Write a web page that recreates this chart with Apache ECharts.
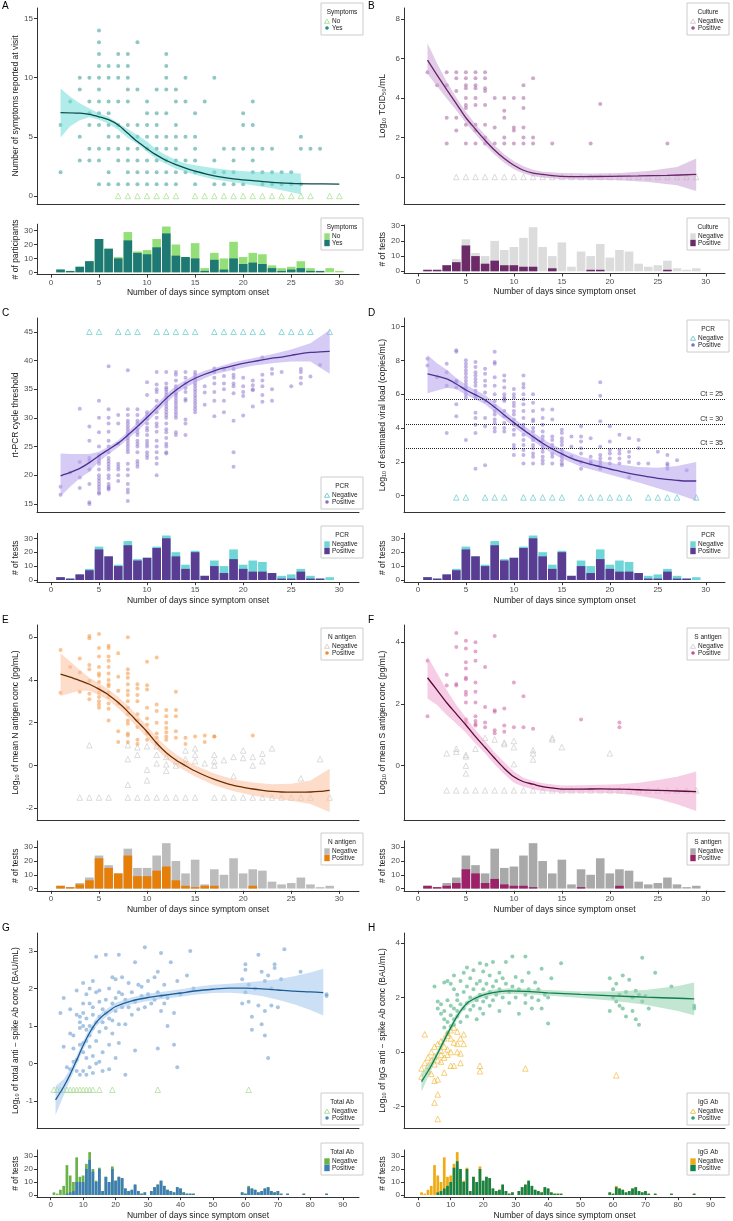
<!DOCTYPE html>
<html>
<head>
<meta charset="utf-8">
<script src="https://cdn.jsdelivr.net/npm/echarts@6/dist/echarts.min.js"></script>
<style>
html,body{margin:0;padding:0;background:#fff}
#main{width:733px;height:1221px}
</style>
</head>
<body>
<div id="main"></div>
<script>
// ---------- data ----------
var days29 = [1,2,3,4,5,6,7,8,9,10,11,12,13,14,15,16,17,18,19,20,21,22,23,24,25,26,27,28,29];
var days30 = [1,2,3,4,5,6,7,8,9,10,11,12,13,14,15,16,17,18,19,20,21,22,23,24,25,26,27,28,29,30];

// A - symptoms
var A_yes = [[1,[6,2]],[2,[8]],[3,[10,9,5,3]],[4,[10,8,7,6,4,3]],[5,[14,13,12,11,10,9,8,7,6,4,3,1]],
  [6,[11,10,8,7,6,5,4,2,1]],[7,[12,11,10,8,6,5,4,3,1]],[8,[12,11,10,9,8,6,4,3,2,1]],[9,[13,9,6,5,4,3,2,1]],
  [10,[8,7,6,5,4,3,2,1]],[11,[9,7,6,5,4,3,2,1]],[12,[12,11,10,9,7,5,4,3,2,1]],[13,[9,8,6,5,4,3,2,1]],
  [14,[10,8,5,3,2]],[15,[7,5,4,3,2,1]],[16,[8]],[17,[10,3,2,1]],[18,[4,2,1]],[19,[4,3,2,1]],[20,[7,6,4,1]],
  [21,[8,6,4,3,2]],[22,[4,2,1]],[23,[4,2,1]],[24,[2,1]],[25,[2,1]],[26,[5,4,1]],[27,[4]],[28,[4]]];
var A_noDays = [7,8,9,10,11,12,13,15,16,17,18,19,20,21,22,23,24,25,26,27,29,30];
var A_noLevel = 0;
var A_fitX = [1,3,4,5,6,7,8,9,10,11,12,13,14,15,17,19,21,23,25,27,30];
var A_fit = [7.05,7.0,6.9,6.7,6.45,6.0,5.3,4.6,4.0,3.45,3.0,2.65,2.35,2.1,1.7,1.45,1.3,1.15,1.07,1.03,1.0];
var A_ciX = [1,2,3,4,5,6,7,8,9,10,11,12,13,14,15,17,19,21,23,26];
var A_ciLo = [4.95,5.9,6.4,6.65,6.45,6.1,5.6,4.9,4.4,3.75,3.1,2.7,2.3,2.05,1.8,1.4,1.15,0.9,0.65,0.15];
var A_ciHi = [9.1,8.4,7.85,7.4,7.0,6.7,6.15,5.65,5.15,4.6,3.9,3.45,3.05,2.75,2.6,2.35,2.15,2.05,2.0,1.9];
var A_histPos = [2,1,4,8,24,17,10,23,14,13,18,28,12,11,10,1,9,2,10,6,7,6,3,1,2,3,1,1,0,0];
var A_histTot = [2,1,4,8,24,17,11,29,15,16,24,33,20,11,21,3,14,10,22,11,14,13,5,3,4,8,3,1,3,1];

// B - culture
var B_pos = [[1,[5.3]],[2,[4.65]],[3,[5.3,4.65,3.0,1.7]],[4,[5.3,5.0,4.35,3.0,2.35]],
  [5,[5.3,5.0,4.65,4.5,4.0,3.65,3.5,2.65,1.7]],[6,[5.3,5.0,4.65,4.5,4.0,3.65,2.65,2.35,1.7]],
  [7,[5.3,5.0,4.5,4.35,3.65,2.65,2.0,1.7]],[8,[4.0,2.5,1.7]],[9,[4.0,3.35,3.0,2.0,1.7]],[10,[4.0,2.5,2.35,1.7]],
  [11,[4.65,4.0,3.5,2.5,2.0,1.7]],[12,[5.0,2.0,1.7]],[14,[1.7]],[18,[1.7]],[19,[3.7]],[26,[1.7]]];
var B_negDays = [4,5,6,7,8,9,10,11,12,13,14,15,16,17,18,19,20,21,22,23,24,25,26,27,28,29];
var B_negLevel = 0;
var B_fitX = [1,2,3,4,5,6,7,8,9,10,11,12,13,14,15,17,20,23,26,29];
var B_fit = [5.92,5.16,4.43,3.72,3.0,2.42,1.86,1.35,0.93,0.59,0.34,0.2,0.13,0.07,0.03,0.02,0.03,0.05,0.08,0.13];
var B_ciX = [1,2,3,4,5,6,7,8,9,10,11,12,13,15,18,21,24,27,29];
var B_ciLo = [5.21,4.6,3.98,3.38,2.74,2.17,1.62,1.13,0.71,0.39,0.17,0.03,-0.03,-0.12,-0.14,-0.17,-0.25,-0.42,-0.71];
var B_ciHi = [6.77,5.75,4.82,4.03,3.3,2.67,2.12,1.59,1.15,0.8,0.54,0.37,0.27,0.2,0.17,0.2,0.3,0.5,0.93];
var B_histPos = [1,1,4,6,17,10,5,7,4,4,3,3,0,2,0,0,0,1,1,0,0,0,0,0,0,1,0,0,0];
var B_histTot = [1,1,4,8,21,12,10,20,14,16,22,29,16,10,19,3,13,10,18,9,14,13,5,3,4,7,2,1,2];

// C / D - PCR
var C_pos = [[1,[18,16.6]],[2,[20.5]],[3,[31.6,22.3,19.6,17.8]],[4,[28.5,26,23,22.5,21,18.5,15.3,15]],
  [5,[33,30,27.5,25,23.5,23,22.5,22,21,20,19.5,19,18.5,18,17.5,17,16.8]],
  [6,[39,31.5,30,29,27.6,26,25,24,23,22.5,22,21.5,21,20,19.5,18.5,18,17.8,17.5]],
  [7,[30.5,29,25.5,22,21.5,21,20,19]],
  [8,[38.3,31.5,30.5,29.5,29,28.5,28,27.5,27,26.5,26,25.5,25,24.5,24,22,21,20,18.5,17.5,17,15.5]],
  [9,[31.5,30.5,29.5,29,28,27.5,27,26,25.5,25,24,22.5,22,21.5]],
  [10,[36.2,34,31,30.5,29.8,29,28.3,27.8,27,26,25.5,25,24,23.5,23]],
  [11,[38,35.8,35,34.5,33,32,31,30,29,28.5,27.6,26,25,24,23,22,20]],
  [12,[38,36,35.3,35,34.5,34,33.5,33,32.5,32,31.5,31,30.5,30,29,28,27.5,26.5,25.5,25,24,23.8]],
  [13,[38,37.5,36.5,35.5,35,34.3,34,33.5,33,32.5,32,31.5,31,30.5,30,27.5,27]],
  [14,[38,37,36,35.2,34.5,33.3,33,29.7,29,27]],
  [15,[38,37.5,37,36.5,36,35.5,35,34.5,34,33.5,33,32.5,32,31.5,31]],
  [16,[35.5,34.4,32.3]],[17,[38.6,38,37,36,34.5,33,30.3]],[18,[38.5,37.3,36,35,33,31]],
  [19,[38.5,37.5,37,36,35.5,34.3,29.5,24,21.5]],[20,[37,35.5,34.5,33.8,30.4]],[21,[36.5,35.7,35,34.8,32]],
  [22,[40.5,37.5,36.5,35.5,34,32.8]],[23,[38.5,37.7,35,33]],[24,[38]],[25,[35.5]],[26,[38.5,38,37,36]],
  [27,[37.2]],[28,[39.2]]];
var PCR_negDays = [4,5,7,8,9,11,12,13,14,15,17,18,19,20,21,22,24,25,26,27,29];
var C_negLevel = 45;
var C_fit = [19.9,20.5,21.2,22.2,23.4,24.5,25.6,27.0,28.5,30.1,31.7,33.4,34.8,36.0,36.9,37.6,38.2,38.7,39.1,39.5,39.8,40.1,40.4,40.6,40.9,41.2,41.4,41.5,41.6];
var C_ciX = [1,2,3,4,5,6,7,8,9,10,11,12,13,14,15,16,17,19,21,23,25,27,29];
var C_ciLo = [16.3,18.0,19.5,20.6,22.4,23.7,24.9,26.3,27.7,29.3,30.9,32.6,34.1,35.3,36.1,36.9,37.6,38.4,39.1,39.5,39.8,39.8,37.7];
var C_ciHi = [23.8,23.7,23.7,23.7,24.1,25.0,26.1,27.6,29.2,30.8,32.4,34.1,35.6,36.6,37.5,38.2,38.7,39.7,40.4,41.1,41.9,43.0,45.3];
var PCR_histPos = [2,1,4,7,22,17,10,25,14,16,23,30,17,8,20,3,10,5,15,8,6,6,5,1,1,6,1,1,0];
var PCR_histTot = [2,1,4,8,24,17,11,28,15,16,24,32,20,11,21,3,14,10,22,11,14,13,5,3,4,8,3,1,2];

var D_pos = [[1,[8.1,7.7]],[2,[7.0]],[3,[7.8,7.3,6.5,3.7]],[4,[8.6,8.5,6.8,6.7,6.4,5.4,4.7]],
  [5,[8.0,7.8,7.6,7.4,7.2,7.0,6.8,6.6,6.4,6.2,6.0,5.8,3.3]],
  [6,[7.9,7.6,7.3,7.1,6.9,6.7,6.5,6.2,6.0,5.8,4.9,4.6,4.2,3.7,1.6]],
  [7,[7.5,7.2,6.8,6.5,6.1,5.6,4.6,4.1,1.8]],
  [8,[8.5,7.9,7.8,7.0,6.5,6.0,5.6,5.3,5.0,4.8,4.5,4.3,4.0,3.8]],
  [9,[7.1,6.8,6.4,6.0,5.8,5.7,5.6,5.0,4.7,4.3,4.0,3.8]],
  [10,[6.3,6.0,5.8,5.5,5.3,5.0,4.8,4.5,4.2,3.9,3.6,3.0,2.8,2.4]],
  [11,[7.1,6.6,6.4,6.0,5.7,5.4,5.0,4.6,4.2,4.0,3.6,3.3,3.0,2.7,2.4,1.9]],
  [12,[6.0,5.5,5.0,4.5,4.4,4.0,3.8,3.5,3.3,3.0,2.8,2.5,2.3,1.9]],
  [13,[5.1,4.6,4.2,3.8,3.5,3.3,3.0,2.8,2.6,2.3,2.1,1.9]],
  [14,[5.1,4.5,3.5,3.3,3.0,2.8,2.5,2.3,1.9]],
  [15,[3.9,3.7,3.4,3.2,3.0,2.7,2.5,2.3,2.1,1.9,1.8]],
  [16,[3.5,2.9,2.3]],[17,[4.1,3.5,3.2,2.8,2.5,2.0,1.6]],[18,[3.4,2.3,2.0,1.9]],
  [19,[6.7,5.9,4.4,2.9,2.4,2.2,2.0,1.8,1.6]],[20,[4.1,3.2,2.7,2.5,2.2,1.9]],[21,[3.6,2.7,2.5,2.2,1.9]],
  [22,[3.4,2.6,2.3,2.0,1.1]],[23,[3.3,2.8,1.9]],[24,[1.9]],[25,[2.6]],[26,[2.4,1.9,1.8,1.6]],[27,[2.1]],[28,[1.5]]];
var D_negLevel = -0.1;
var D_fitX = [1,3,4,5,6,7,8,9,10,11,12,13,14,15,16,17,18,19,20,21,22,23,24,25,26,27,28,29];
var D_fit = [7.2,6.9,6.6,6.25,5.96,5.66,5.23,4.77,4.32,3.89,3.49,3.1,2.76,2.47,2.21,2.01,1.85,1.72,1.58,1.46,1.32,1.22,1.12,1.03,0.97,0.91,0.87,0.87];
var D_ciX = [1,2,3,4,5,6,7,8,9,10,11,12,13,14,15,17,19,21,23,25,27,29];
var D_ciLo = [6.06,6.21,6.37,6.3,5.95,5.7,5.4,4.95,4.52,4.07,3.63,3.23,2.84,2.5,2.2,1.72,1.4,1.1,0.78,0.45,0.1,-0.3];
var D_ciHi = [8.32,7.83,7.44,6.95,6.55,6.25,5.95,5.5,5.03,4.58,4.15,3.75,3.36,3.03,2.75,2.3,2.05,1.85,1.7,1.65,1.75,2.0];
var ctLabels = ['Ct = 25','Ct = 30','Ct = 35'];
var ctLevels = [5.7,4.22,2.8];

// E - N antigen
var E_pos = [[1,[5.4,3.4]],[2,[4.6]],[3,[5.0,4.35,3.45]],[4,[6.05,5.95,4.7,4.5,3.95,3.35,3.1]],
  [5,[6.15,5.5,5.1,4.6,4.3,4.2,3.9,3.6,3.4,3.2,3.0,2.85,2.7]],
  [6,[5.6,5.5,5.1,4.9,4.6,4.3,4.0,3.8,3.7,3.4,3.2,2.9,2.65,2.1]],[7,[5.25,4.15,3.5,2.9,1.6,1.1]],
  [8,[6.0,4.5,4.3,4.1,3.8,3.5,3.3,3.0,2.7,2.4,2.1,1.95,1.5,1.4,1.1]],[9,[3.8,3.6,3.3,3.0,2.4,2.1,1.8,1.2,1.0]],
  [10,[4.85,3.75,3.55,2.7,2.2,1.9,1.5,1.2]],[11,[5.05,2.85,2.55,2.0,1.5,1.3,1.05]],[12,[2.6,2.3,2.0,1.75,1.55,1.35,1.2]],
  [13,[3.45,2.6,2.3,1.6,1.3]],[14,[1.3,1.0]],[15,[1.35]],[16,[1.4,1.1]],[17,[1.35,1.35]],[21,[1.4]]];
var E_neg = [[3,[-1.5]],[4,[0.95,-1.5]],[5,[-1.5]],[6,[-1.5]],[8,[0.95,0.3,-0.9,-1.5]],[9,[0.85,0.5,-1.5]],
  [10,[0.9,-0.2,-0.7,-1.5]],[11,[0.9,0.5,0.1,-1.5]],[12,[0.4,0.05,-0.25,-1.5]],[13,[0.2,0.0,-1.5]],
  [14,[0.7,0.3,0.1,-1.5]],[15,[0.8,0.5,0.2,-1.5]],[16,[0.1]],[17,[0.5,0.2,0.0,-1.5]],[18,[0.25,-1.5]],
  [19,[0.4,-0.5,-1.5]],[20,[0.7,0.35,-1.5]],[21,[0.4,0.0,-1.5]],[22,[0.55,0.2,-1.5]],[23,[0.8,-1.5]],
  [24,[-1.5]],[25,[-1.5]],[26,[-0.6,-1.5]],[27,[-1.5]],[28,[0.3]],[29,[-1.5]]];
var E_fit = [4.27,4.13,3.97,3.8,3.57,3.3,2.94,2.52,2.05,1.58,1.04,0.6,0.26,-0.01,-0.26,-0.47,-0.65,-0.8,-0.93,-1.02,-1.1,-1.16,-1.21,-1.24,-1.25,-1.25,-1.24,-1.21,-1.16];
var E_ciX = [1,2,3,4,5,6,7,8,9,10,11,12,13,14,15,17,19,21,23,25,27,29];
var E_ciLo = [3.25,3.38,3.49,3.5,3.3,3.05,2.68,2.25,1.78,1.3,0.77,0.33,0.0,-0.26,-0.52,-0.92,-1.2,-1.4,-1.55,-1.65,-1.8,-2.17];
var E_ciHi = [5.25,4.86,4.47,4.1,3.85,3.55,3.2,2.8,2.33,1.86,1.32,0.88,0.53,0.25,0.0,-0.38,-0.65,-0.8,-0.88,-0.85,-0.7,-0.15];
var E_histPos = [2,1,3,6,22,15,11,24,9,9,13,16,6,2,1,2,2,0,0,0,2,0,0,0,0,0,0,0,0];
var E_histTot = [2,1,4,8,24,17,11,29,15,15,24,33,20,11,21,3,14,10,22,11,14,13,5,3,4,8,3,1,2];

// F - S antigen
var F_pos = [[1,[3.4,1.6]],[3,[2.95,2.6]],[4,[4.3,3.85,2.65,2.6]],[5,[4.05,3.8,3.35,3.15,2.85,2.8,2.4,2.3,2.05,1.5,1.4]],
  [6,[4.0,3.7,3.4,2.7,2.4,2.05,1.6,1.45,1.35,1.3]],[7,[3.2,1.9,1.4,1.25]],[8,[4.2,1.8,1.75,1.15,1.05]],
  [9,[1.85,1.3,1.1]],[10,[2.7,1.25]],[11,[2.25,1.25]],[12,[1.2]],[17,[1.5]],[21,[1.4,1.25]]];
var F_neg = [[3,[0.4,-0.8]],[4,[0.55,0.45,-0.8]],[5,[0.35,0.3,0.0,-0.25,-0.8]],[6,[0.55,-0.8]],[7,[0.9,-0.8]],
  [8,[0.85,-0.8]],[9,[0.75,0.7,-0.8]],[10,[0.8,0.6,0.05,-0.8]],[11,[-0.8]],[12,[0.5,0.4,0.2,-0.8]],[13,[-0.8]],
  [14,[0.9,0.85,-0.8]],[15,[0.6,-0.8]],[16,[-0.8]],[17,[-0.8]],[18,[-0.8]],[19,[-0.8]],[20,[0.4,-0.8]],
  [21,[-0.8]],[22,[-0.8]],[23,[-0.8]],[24,[-0.8]],[25,[-0.8]],[26,[-0.8]],[27,[-0.8]],[28,[-0.8]],[29,[-0.8]]];
var F_fitX = [1,2,3,4,5,6,7,8,9,10,11,12,13,14,15,17,19,21,23,25,27,29];
var F_fit = [2.85,2.45,2.04,1.68,1.32,0.94,0.59,0.24,-0.09,-0.36,-0.52,-0.6,-0.68,-0.72,-0.76,-0.76,-0.75,-0.76,-0.78,-0.8,-0.82,-0.84];
var F_ciX = [1,2,3,4,5,6,7,8,9,10,11,12,13,15,17,19,21,23,25,27,29];
var F_ciLo = [2.18,1.97,1.64,1.37,1.07,0.72,0.4,0.04,-0.28,-0.55,-0.68,-0.76,-0.82,-0.88,-0.88,-0.88,-0.9,-0.97,-1.08,-1.25,-1.47];
var F_ciHi = [3.54,3.0,2.45,1.97,1.56,1.16,0.8,0.43,0.11,-0.19,-0.39,-0.5,-0.57,-0.64,-0.63,-0.62,-0.6,-0.55,-0.46,-0.36,-0.19];
var F_histPos = [2,1,2,4,14,11,4,7,3,2,2,1,0,0,0,0,1,0,0,0,2,0,0,0,0,0,0,0,0];
var F_histTot = [2,1,4,8,24,17,11,29,15,16,24,33,20,11,21,3,14,10,22,11,14,13,5,3,4,8,3,1,2];

// G / H - antibodies
var Ab_days = [1,2,3,4,5,6,7,8,9,10,11,12,13,14,15,16,17,18,19,20,21,22,23,24,25,26,27,28,29,31,32,33,34,35,36,37,38,39,40,41,42,43,44,59,60,61,62,63,64,65,66,67,68,69,70,71,73,78,85];
var Ab_tot = [2,1,4,7,23,15,10,29,14,15,24,33,20,11,21,3,14,10,22,11,14,13,5,3,4,8,3,1,2,3,6,8,11,7,4,3,2,6,5,2,1,1,1,2,1,7,5,4,2,3,5,6,3,2,3,1,1,1,1];
var G_histPos = [0,0,0,0,1,2,3,10,10,10,20,27,18,10,20,3,14,10,20,11,14,13,5,3,4,8,3,1,2,3,6,8,11,7,4,3,2,6,5,2,1,1,1,2,1,6,5,4,2,3,5,6,3,2,3,1,1,1,1];
var H_histPos = [0,0,0,0,0,2,3,5,7,10,21,26,20,10,20,3,14,10,20,11,14,13,5,3,4,8,3,1,2,3,6,8,11,7,4,3,2,6,5,2,1,1,1,2,1,6,5,4,2,3,5,6,3,2,3,1,1,1,1];

var G_pos = [[3,1.35],[4,1.75],[4,0.45],[5,-0.1],[6,0.8],[6,1.45],[6,-0.15],[7,0.05],[7,0.4],[7,0.75],[8,1.95],[8,1.3],
  [8,0.1],[8,-0.2],[9,1.25],[9,0.5],[9,0.95],[9,-0.3],[9,1.1],[10,2.15],[10,1.0],[10,0.55],[10,0.3],[10,-0.2],[10,1.6],
  [10,1.35],[11,0.15],[11,0.6],[11,1.2],[11,-0.3],[11,0.9],[11,1.85],[12,1.0],[12,2.0],[12,0.45],[12,-0.1],[12,1.6],
  [12,0.75],[13,1.3],[13,0.2],[13,1.5],[13,0.95],[13,-0.25],[13,2.2],[14,2.85],[14,1.9],[14,0.6],[14,0.0],[14,1.1],
  [15,1.65],[15,0.05],[15,1.25],[15,0.85],[15,1.95],[16,1.45],[16,0.3],[16,1.1],[16,-0.2],[17,2.9],[17,1.7],[17,0.95],
  [17,1.35],[18,2.0],[18,1.2],[18,-0.15],[18,0.5],[19,2.3],[19,1.6],[19,1.15],[19,0.8],[20,2.25],[20,1.75],[20,1.4],
  [20,0.15],[21,2.9],[21,1.9],[21,1.05],[21,0.55],[22,1.85],[22,1.5],[22,2.3],[23,1.7],[23,-0.3],[23,1.05],[24,2.15],
  [24,1.5],[25,1.9],[25,1.3],[26,2.7],[26,0.35],[26,1.65],[27,2.1],[27,1.45],[28,1.8],[28,2.05],[29,3.1],[29,1.5],
  [30,1.85],[30,2.2],[31,1.6],[32,2.3],[32,1.7],[33,2.45],[33,1.9],[33,0.4],[34,2.95],[34,1.8],[34,1.4],[35,2.1],
  [35,1.6],[36,1.0],[36,1.75],[37,2.7],[38,1.35],[38,0.5],[39,2.2],[39,-0.1],[40,1.85],[42,2.35],[43,3.0],[44,2.0],
  [59,2.25],[59,1.6],[60,2.65],[60,2.5],[60,1.9],[61,1.65],[61,2.1],[62,1.25],[62,0.9],[63,2.0],[64,2.9],[64,1.55],
  [65,2.45],[65,1.05],[66,2.2],[66,1.4],[66,0.75],[67,2.35],[67,0.15],[68,2.0],[68,1.55],[69,2.55],[69,2.65],[70,1.5],
  [71,2.25],[72,3.05],[77,2.45],[85,1.8],[85,1.85]];
var G_negDays = [1,2,3,4,5,6,7,8,9,10,11,12,13,15,19,33,61];
var G_negLevel = -0.7;
var G_fitX = [1.5,4,6,8,10,12,14,16,18,20,25,30,35,40,45,50,55,60,65,70,75,80,84];
var G_fit = [-0.97,-0.62,-0.29,0.09,0.48,0.82,1.09,1.27,1.4,1.52,1.67,1.76,1.82,1.88,1.94,1.98,2.01,2.01,1.99,1.96,1.93,1.91,1.89];
var G_ciLo = [-1.37,-0.85,-0.44,-0.04,0.36,0.7,0.98,1.17,1.3,1.42,1.58,1.67,1.73,1.78,1.84,1.88,1.89,1.86,1.8,1.7,1.58,1.43,1.28];
var G_ciHi = [-0.6,-0.42,-0.15,0.21,0.6,0.94,1.2,1.38,1.5,1.62,1.77,1.86,1.92,1.98,2.05,2.1,2.13,2.16,2.2,2.25,2.33,2.43,2.53];

var H_pos = [[5,2.4],[6,1.6],[6,1.85],[7,1.4],[7,1.75],[8,2.55],[8,1.5],[8,1.2],[8,0.9],[9,2.6],[9,1.9],[9,1.1],[9,0.7],
  [10,2.5],[10,1.7],[10,1.35],[10,0.95],[11,2.8],[11,2.3],[11,1.6],[11,1.2],[11,1.0],[12,2.1],[12,1.9],[12,1.5],[12,1.3],
  [13,2.6],[13,1.75],[13,1.1],[14,2.9],[14,2.2],[14,1.6],[15,3.1],[15,2.4],[15,1.8],[15,1.3],[16,2.7],[16,2.0],[16,1.55],
  [17,3.0],[17,2.3],[17,1.7],[18,2.5],[18,1.9],[18,1.2],[19,3.25],[19,2.6],[19,2.1],[19,1.6],[20,2.95],[20,2.3],[20,1.85],
  [20,1.4],[21,3.2],[21,2.5],[21,2.0],[22,2.8],[22,2.2],[22,1.7],[23,3.3],[23,2.4],[23,1.9],[24,2.6],[24,2.1],[25,2.9],
  [25,2.3],[25,1.5],[26,2.7],[26,2.0],[27,3.3],[27,2.5],[28,2.2],[28,1.8],[29,3.5],[29,2.4],[30,2.75],[30,2.0],[31,2.3],
  [31,1.4],[32,2.6],[33,3.5],[33,2.1],[33,1.8],[34,2.9],[34,2.3],[35,2.0],[35,1.6],[36,2.55],[37,2.3],[37,1.9],[38,3.05],
  [38,1.6],[39,2.1],[40,1.05],[40,2.0],[41,2.7],[44,3.25],[59,2.7],[59,1.5],[60,2.3],[60,2.0],[61,2.5],[61,1.85],[62,2.1],
  [62,1.7],[63,2.8],[63,1.6],[64,2.2],[64,1.3],[65,2.65],[66,2.0],[66,1.5],[67,2.25],[67,1.2],[68,1.0],[68,2.1],[69,3.45],
  [69,1.85],[70,2.05],[71,1.6],[73,2.9],[78,2.4],[85,1.6],[85,1.7]];
var H_neg = [[1,-0.6],[1,-0.9],[2,0.65],[2,-0.4],[3,-0.2],[3,-0.5],[3,-0.7],[4,-0.3],[4,-0.8],[4,0.0],[5,-1.05],[5,-0.45],
  [5,-1.85],[5,0.2],[5,-0.15],[6,-1.55],[6,-2.45],[6,-1.0],[6,0.3],[6,-0.3],[7,0.4],[7,-0.1],[7,0.05],[7,-0.35],[8,0.5],
  [8,-0.75],[8,0.2],[8,-0.2],[9,0.7],[9,0.6],[9,0.1],[9,-0.1],[10,0.8],[10,0.5],[10,0.0],[10,-0.5],[11,0.9],[11,0.35],
  [11,-0.5],[12,0.75],[12,0.3],[12,0.0],[13,0.5],[13,-0.05],[13,-0.4],[14,0.65],[14,0.3],[19,-0.5],[19,-0.7],[33,-0.6],[61,-0.85]];
var H_fitX = [1,3.5,5.5,7.5,9.5,11.5,13.5,15.5,19,23,28,33,40,50,60,70,80,85];
var H_fit = [-1.08,-0.6,-0.15,0.32,0.78,1.22,1.58,1.83,2.05,2.18,2.24,2.22,2.17,2.11,2.06,2.01,1.97,1.95];
var H_ciLo = [-1.45,-0.78,-0.28,0.2,0.67,1.1,1.47,1.73,1.95,2.08,2.14,2.12,2.07,1.98,1.88,1.73,1.5,1.35];
var H_ciHi = [-0.75,-0.42,-0.02,0.44,0.9,1.34,1.69,1.93,2.15,2.28,2.34,2.32,2.27,2.22,2.22,2.27,2.42,2.55];

// ---------- helpers ----------
var FONT = '"Liberation Sans", Arial, sans-serif';
var AXIS_C = '#333333', TICK_C = '#4d4d4d', TITLE_C = '#1a1a1a';
var X_NAME = 'Number of days since symptom onset';

function grouped(list) {
  var out = [];
  list.forEach(function (g) { g[1].forEach(function (v) { out.push([g[0], v]); }); });
  return out;
}
function atLevel(days, v) { return days.map(function (d) { return [d, v]; }); }
function zip(xs, ys) { return xs.map(function (x, i) { return [x, ys[i]]; }); }

var grids = [], xAxes = [], yAxes = [], series = [], graphics = [];

function xAxis(gi, min, max, ticks) {
  var a = {
    type: 'value', gridIndex: gi, min: min, max: max,
    axisLine: { show: true, onZero: false, lineStyle: { color: AXIS_C, width: 1 } },
    splitLine: { show: false }
  };
  if (ticks) {
    a.axisTick = { show: true, length: 3, customValues: ticks, lineStyle: { color: AXIS_C } };
    a.axisLabel = { customValues: ticks, fontSize: 8, color: TICK_C, margin: 4 };
    a.name = X_NAME; a.nameLocation = 'middle'; a.nameGap = 14;
    a.nameTextStyle = { fontSize: 8.5, color: TITLE_C };
  } else {
    a.axisTick = { show: false };
    a.axisLabel = { show: false };
  }
  return a;
}
function yAxis(gi, min, max, ticks, name) {
  return {
    type: 'value', gridIndex: gi, min: min, max: max,
    name: name, nameLocation: 'middle', nameGap: 17,
    nameTextStyle: { fontSize: 8.5, color: TITLE_C },
    axisLine: { show: true, onZero: false, lineStyle: { color: AXIS_C, width: 1 } },
    axisTick: { show: true, length: 3, customValues: ticks, lineStyle: { color: AXIS_C } },
    axisLabel: { customValues: ticks, fontSize: 8, color: TICK_C, margin: 4 },
    splitLine: { show: false }
  };
}

// confidence band: one polygon through api.coord, upper edge forward and lower edge back
function bandSeries(gi, xs, lo, hi, color) {
  return {
    type: 'custom', xAxisIndex: gi, yAxisIndex: gi, silent: true, z: 3, clip: true,
    data: xs.map(function (x, i) { return [x, lo[i], hi[i]]; }),
    encode: { x: 0, y: [1, 2] },
    renderItem: function (params, api) {
      if (params.dataIndex !== 0) return;
      var pts = [], i;
      for (i = 0; i < xs.length; i++) pts.push(api.coord([xs[i], hi[i]]));
      for (i = xs.length - 1; i >= 0; i--) pts.push(api.coord([xs[i], lo[i]]));
      return { type: 'polygon', shape: { points: pts }, style: { fill: color, opacity: 0.55 } };
    }
  };
}

function legendBox(x, y, w, title, items) {
  var kids = [
    { type: 'rect', shape: { x: 0, y: 0, width: w, height: 32 }, style: { fill: '#fff', stroke: '#cccccc', lineWidth: 1 } },
    { type: 'text', style: { text: title, x: w / 2, y: 9, align: 'center', verticalAlign: 'middle', fontSize: 6.5, fill: TITLE_C, fontFamily: FONT } }
  ];
  items.forEach(function (it, i) {
    var cy = 18.5 + i * 6.5;
    if (it.shape === 'tri') {
      kids.push({ type: 'polygon', shape: { points: [[6, cy - 2.4], [3.5, cy + 1.8], [8.5, cy + 1.8]] }, style: { fill: 'none', stroke: it.color, lineWidth: 0.8 } });
    } else if (it.shape === 'dot') {
      kids.push({ type: 'circle', shape: { cx: 6, cy: cy, r: 1.8 }, style: { fill: it.color } });
    } else {
      kids.push({ type: 'rect', shape: { x: 3.3, y: cy - 3.2, width: 5.4, height: 6.4 }, style: { fill: it.color } });
    }
    kids.push({ type: 'text', style: { text: it.label, x: 11, y: cy, verticalAlign: 'middle', fontSize: 6.5, fill: TITLE_C, fontFamily: FONT } });
  });
  graphics.push({ type: 'group', x: x, y: y, children: kids, silent: true });
}

function addPanel(p) {
  var gi = grids.length, hi = gi + 1;
  grids.push({ left: p.left, top: p.top[0], width: p.width, height: p.top[1] - p.top[0], outerBoundsMode: 'none' });
  grids.push({ left: p.left, top: p.hist[0], width: p.width, height: p.hist[1] - p.hist[0], outerBoundsMode: 'none' });
  xAxes.push(xAxis(gi, p.xMin, p.xMax, null));
  yAxes.push(yAxis(gi, p.yMin, p.yMax, p.yTicks, p.yName));
  xAxes.push(xAxis(hi, p.xMin, p.xMax, p.xTicks));
  yAxes.push(yAxis(hi, p.hMin, p.hMax, [0, 10, 20, 30], p.hName));

  var c = p.col;
  series.push({ type: 'scatter', xAxisIndex: gi, yAxisIndex: gi, data: p.neg, symbol: 'triangle', symbolSize: 5.5,
    itemStyle: { color: 'rgba(0,0,0,0)', borderColor: c.tri, borderWidth: 0.8 }, silent: true, z: 2 });
  series.push({ type: 'scatter', xAxisIndex: gi, yAxisIndex: gi, data: p.pos, symbol: 'circle', symbolSize: 4,
    itemStyle: { color: c.dot, opacity: 0.5 }, silent: true, z: 2 });
  series.push(bandSeries(gi, p.ciX, p.ciLo, p.ciHi, c.band));
  var fit = { type: 'line', xAxisIndex: gi, yAxisIndex: gi, data: zip(p.fitX, p.fit), symbol: 'none', smooth: 0.3,
    lineStyle: { color: c.line, width: 1.3 }, silent: true, z: 4 };
  if (p.refLines) fit.markLine = p.refLines;
  series.push(fit);

  series.push({ type: 'bar', xAxisIndex: hi, yAxisIndex: hi, data: zip(p.hDays, p.hTot), barWidth: p.barW, barGap: '-100%',
    itemStyle: { color: c.hNeg }, silent: true });
  series.push({ type: 'bar', xAxisIndex: hi, yAxisIndex: hi, data: zip(p.hDays, p.hPos), barWidth: p.barW, barGap: '-100%',
    itemStyle: { color: c.hPos }, silent: true });

  var lx = p.left < 300 ? 321 : 687;
  var labs = p.labels || ['Negative', 'Positive'];
  legendBox(lx, p.legTop, 42, p.title, [
    { shape: 'tri', color: c.tri, label: labs[0] }, { shape: 'dot', color: c.dot, label: labs[1] }]);
  legendBox(lx, p.legHist, 42, p.title, [
    { shape: 'sq', color: c.hNeg, label: labs[0] }, { shape: 'sq', color: c.hPos, label: labs[1] }]);
  graphics.push({ type: 'text', silent: true, style: { text: p.letter, x: p.left < 300 ? 2 : 368, y: p.letterY,
    verticalAlign: 'middle', fontSize: 10, fill: '#000', fontFamily: FONT } });
}

var L = { left: 37, width: 322 }, R = { left: 404, width: 321 };
var ticks30 = [0, 5, 10, 15, 20, 25, 30], ticks90 = [0, 10, 20, 30, 40, 50, 60, 70, 80, 90];

addPanel({ letter: 'A', letterY: 6, left: L.left, width: L.width, xMin: -1.45, xMax: 32.05, xTicks: ticks30,
  top: [8, 204], yMin: -0.68, yMax: 15.9, yTicks: [0, 5, 10, 15], yName: 'Number of symptoms reported at visit',
  hist: [224.2, 274.6], hMin: -1.65, hMax: 34.65, hName: '# of participants', barW: 8.6,
  pos: grouped(A_yes), neg: atLevel(A_noDays, A_noLevel),
  fitX: A_fitX, fit: A_fit, ciX: A_ciX, ciLo: A_ciLo, ciHi: A_ciHi,
  hDays: days30, hTot: A_histTot, hPos: A_histPos,
  title: 'Symptoms', labels: ['No', 'Yes'], legTop: 3, legHist: 218,
  col: { dot: '#1f8f8a', tri: '#98dc7c', band: '#6fdcd8', line: '#0b4b48', hPos: '#1e7873', hNeg: '#95df79' } });

addPanel({ letter: 'B', letterY: 6, left: R.left, width: R.width, xMin: -1.45, xMax: 32.0, xTicks: ticks30,
  top: [8, 204], yMin: -1.37, yMax: 8.56, yTicks: [0, 2, 4, 6, 8], yName: 'Log\u2081\u2080 TCID\u2085\u2080/mL',
  hist: [225, 273.5], hMin: -1.45, hMax: 30.45, hName: '# of tests', barW: 8.6,
  pos: grouped(B_pos), neg: atLevel(B_negDays, B_negLevel),
  fitX: B_fitX, fit: B_fit, ciX: B_ciX, ciLo: B_ciLo, ciHi: B_ciHi,
  hDays: days29, hTot: B_histTot, hPos: B_histPos,
  title: 'Culture', legTop: 3, legHist: 218,
  col: { dot: '#9c5696', tri: '#c4c4c4', band: '#c9a0d3', line: '#6a2467', hPos: '#6c2a69', hNeg: '#dcdcdc' } });

addPanel({ letter: 'C', letterY: 313, left: L.left, width: L.width, xMin: -1.45, xMax: 32.05, xTicks: ticks30,
  top: [318, 512], yMin: 13.6, yMax: 47.4, yTicks: [15, 20, 25, 30, 35, 40, 45], yName: 'rt-PCR cycle threshold',
  hist: [533.3, 582.2], hMin: -1.6, hMax: 33.6, hName: '# of tests', barW: 8.6,
  pos: grouped(C_pos), neg: atLevel(PCR_negDays, C_negLevel),
  fitX: days29, fit: C_fit, ciX: C_ciX, ciLo: C_ciLo, ciHi: C_ciHi,
  hDays: days29, hTot: PCR_histTot, hPos: PCR_histPos,
  title: 'PCR', legTop: 477, legHist: 526,
  col: { dot: '#8a6bcb', tri: '#55c4c8', band: '#b3a0ec', line: '#4d3190', hPos: '#5a3c93', hNeg: '#6ed6d6' } });

addPanel({ letter: 'D', letterY: 313, left: R.left, width: R.width, xMin: -1.45, xMax: 32.0, xTicks: ticks30,
  top: [318, 512], yMin: -0.96, yMax: 10.5, yTicks: [0, 2, 4, 6, 8, 10], yName: 'Log\u2081\u2080 of estimated viral load (copies/mL)',
  hist: [533.3, 582.2], hMin: -1.6, hMax: 33.6, hName: '# of tests', barW: 8.6,
  pos: grouped(D_pos), neg: atLevel(PCR_negDays, D_negLevel),
  fitX: D_fitX, fit: D_fit, ciX: D_ciX, ciLo: D_ciLo, ciHi: D_ciHi,
  hDays: days29, hTot: PCR_histTot, hPos: PCR_histPos,
  title: 'PCR', legTop: 320, legHist: 526,
  refLines: { silent: true, symbol: 'none', lineStyle: { type: 'dotted', color: '#222', width: 1 },
    label: { position: 'insideEndTop', formatter: '{b}', fontSize: 7, color: '#222', distance: 2 },
    data: ctLevels.map(function (v, i) { return { yAxis: v, name: ctLabels[i] }; }) },
  col: { dot: '#8a6bcb', tri: '#55c4c8', band: '#b3a0ec', line: '#4d3190', hPos: '#5a3c93', hNeg: '#6ed6d6' } });

addPanel({ letter: 'E', letterY: 620, left: L.left, width: L.width, xMin: -1.45, xMax: 32.05, xTicks: ticks30,
  top: [625, 820], yMin: -2.55, yMax: 6.57, yTicks: [-2, 0, 2, 4, 6], yName: 'Log\u2081\u2080 of mean N antigen conc (pg/mL)',
  hist: [840.9, 890.8], hMin: -1.65, hMax: 34.65, hName: '# of tests', barW: 8.6,
  pos: grouped(E_pos), neg: grouped(E_neg),
  fitX: days29, fit: E_fit, ciX: E_ciX, ciLo: E_ciLo, ciHi: E_ciHi,
  hDays: days29, hTot: E_histTot, hPos: E_histPos,
  title: 'N antigen', legTop: 628, legHist: 833,
  col: { dot: '#f58a2c', tri: '#c8c8c8', band: '#fbbf9e', line: '#6a3000', hPos: '#e67e0a', hNeg: '#bcbcbc' } });

addPanel({ letter: 'F', letterY: 620, left: R.left, width: R.width, xMin: -1.45, xMax: 32.0, xTicks: ticks30,
  top: [625, 820], yMin: -1.76, yMax: 4.56, yTicks: [0, 2, 4], yName: 'Log\u2081\u2080 of mean S antigen conc (pg/mL)',
  hist: [840.9, 890.8], hMin: -1.65, hMax: 34.65, hName: '# of tests', barW: 8.6,
  pos: grouped(F_pos), neg: grouped(F_neg),
  fitX: F_fitX, fit: F_fit, ciX: F_ciX, ciLo: F_ciLo, ciHi: F_ciHi,
  hDays: days29, hTot: F_histTot, hPos: F_histPos,
  title: 'S antigen', legTop: 628, legHist: 833,
  col: { dot: '#c8529a', tri: '#c8c8c8', band: '#eea4cf', line: '#5a0a3c', hPos: '#9c2168', hNeg: '#a9a9a9' } });

addPanel({ letter: 'G', letterY: 928, left: L.left, width: L.width, xMin: -4.22, xMax: 95.0, xTicks: ticks90,
  top: [933, 1128], yMin: -1.72, yMax: 3.48, yTicks: [-1, 0, 1, 2, 3], yName: 'Log\u2081\u2080 of total anti \u2212 spike Ab conc (BAU/mL)',
  hist: [1150, 1197.1], hMin: -1.65, hMax: 34.65, hName: '# of tests', barW: 2.7,
  pos: G_pos, neg: atLevel(G_negDays, G_negLevel),
  fitX: G_fitX, fit: G_fit, ciX: G_fitX, ciLo: G_ciLo, ciHi: G_ciHi,
  hDays: Ab_days, hTot: Ab_tot, hPos: G_histPos,
  title: 'Total Ab', legTop: 1093, legHist: 1143,
  col: { dot: '#4f8cc6', tri: '#9cd686', band: '#a3c6ec', line: '#1b5c96', hPos: '#3d7db8', hNeg: '#6cb24a' } });

addPanel({ letter: 'H', letterY: 928, left: R.left, width: R.width, xMin: -4.4, xMax: 94.5, xTicks: ticks90,
  top: [933, 1128], yMin: -2.78, yMax: 4.36, yTicks: [-2, 0, 2, 4], yName: 'Log\u2081\u2080 of IgG anti \u2212 spike Ab conc (BAU/mL)',
  hist: [1150, 1197.1], hMin: -1.65, hMax: 34.65, hName: '# of tests', barW: 2.7,
  pos: H_pos, neg: H_neg,
  fitX: H_fitX, fit: H_fit, ciX: H_fitX, ciLo: H_ciLo, ciHi: H_ciHi,
  hDays: Ab_days, hTot: Ab_tot, hPos: H_histPos,
  title: 'IgG Ab', legTop: 1093, legHist: 1143,
  col: { dot: '#26a066', tri: '#efb530', band: '#8fd2ad', line: '#0f7d4c', hPos: '#10834f', hNeg: '#efab12' } });

var chart = echarts.init(document.getElementById('main'));
chart.setOption({
  animation: false,
  backgroundColor: '#ffffff',
  textStyle: { fontFamily: FONT },
  grid: grids,
  xAxis: xAxes,
  yAxis: yAxes,
  series: series,
  graphic: graphics
});
window.addEventListener('resize', function () { chart.resize(); });
</script>
</body>
</html>
